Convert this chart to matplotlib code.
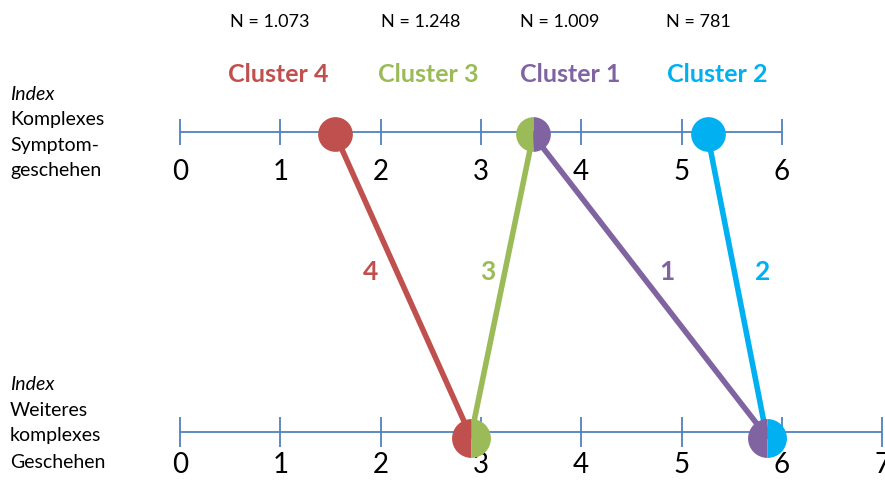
import numpy as np
import matplotlib.pyplot as plt

# cluster data: position on upper and lower index scale
clusters = ['Cluster 4', 'Cluster 3', 'Cluster 1', 'Cluster 2']
short = ['4', '3', '1', '2']
n_labels = ['N = 1.073', 'N = 1.248', 'N = 1.009', 'N = 781']
top_vals = [1.55, 3.52, 3.52, 5.26]
bot_vals = [2.9, 2.9, 5.85, 5.85]
colors = ['#C0504D', '#9BBB59', '#8064A2', '#00B0F0']

top_ticks = [0, 1, 2, 3, 4, 5, 6]
bot_ticks = [0, 1, 2, 3, 4, 5, 6, 7]

plt.rcParams['font.family'] = ['Lato', 'DejaVu Sans']

fig = plt.figure(figsize=(8.85, 4.82), dpi=100)
ax = fig.add_axes([0, 0, 1, 1])
px = 100.3
ax.set_xlim(-180 / px, 705 / px)
ax.set_ylim(-50 / 300, 432 / 300)
ax.axis('off')

axis_col = '#4F81BD'
y_top, y_bot = 1.0, 0.0

# number lines
for y, ticks, h, lo in [(y_top, top_ticks, 0.044, 0.135), (y_bot, bot_ticks, 0.05, 0.11)]:
    ax.hlines(y, ticks[0], ticks[-1], color=axis_col, lw=1.3, zorder=1)
    ax.vlines(ticks, y - h, y + h, color=axis_col, lw=1.3, zorder=1)
    for t in ticks:
        ax.text(t, y - lo, str(t), ha='center', va='center', fontsize=20, color='black')

# connecting lines
for i in range(4):
    ax.plot([top_vals[i], bot_vals[i]], [y_top - 0.01, y_bot - 0.015],
            color=colors[i], lw=4, solid_capstyle='round', zorder=2)
    t = 0.533
    xm = bot_vals[i] + (top_vals[i] - bot_vals[i]) * t
    off = [-20, -12, 18, 20][i]
    ax.annotate(short[i], (xm, t), xytext=(off, 0), textcoords='offset points',
                ha='center', va='center', fontsize=19, fontweight='bold', color=colors[i])

# markers (split where two clusters share a position)
ax.plot(top_vals[0], y_top - 0.007, 'o', ms=25, mew=0, color=colors[0], zorder=3)
ax.plot(top_vals[1], y_top - 0.007, 'o', ms=25, mew=0, fillstyle='left',
        markerfacecolor=colors[1], markerfacecoloralt=colors[2], zorder=3)
ax.plot(top_vals[3], y_top - 0.007, 'o', ms=25, mew=0, color=colors[3], zorder=3)
ax.plot(bot_vals[0], y_bot - 0.02, 'o', ms=28, mew=0, fillstyle='left',
        markerfacecolor=colors[0], markerfacecoloralt=colors[1], zorder=3)
ax.plot(bot_vals[2], y_bot - 0.02, 'o', ms=28, mew=0, fillstyle='left',
        markerfacecolor=colors[2], markerfacecoloralt=colors[3], zorder=3)

# headers
head_x = [278, 428, 570, 717]
n_x = [270, 421, 560, 698]
for i in range(4):
    fig.text(head_x[i] / 885, 1 - 75 / 482, clusters[i], ha='center', va='center',
             fontsize=18, fontweight='bold', color=colors[i])
    fig.text(n_x[i] / 885, 1 - 22 / 482, n_labels[i], ha='center', va='center',
             fontsize=13, color='black')

# left side labels
left_top = [('Index', 95), ('Komplexes', 120), ('Symptom-', 145), ('geschehen', 170)]
left_bot = [('Index', 384), ('Weiteres', 410), ('komplexes', 436), ('Geschehen', 462)]
for lab in [left_top, left_bot]:
    for j, (s, yp) in enumerate(lab):
        fig.text(10 / 885, 1 - yp / 482, s, ha='left', va='center', fontsize=14,
                 style='italic' if j == 0 else 'normal', color='black')

fig.savefig('out.png', dpi=100)
plt.close()
